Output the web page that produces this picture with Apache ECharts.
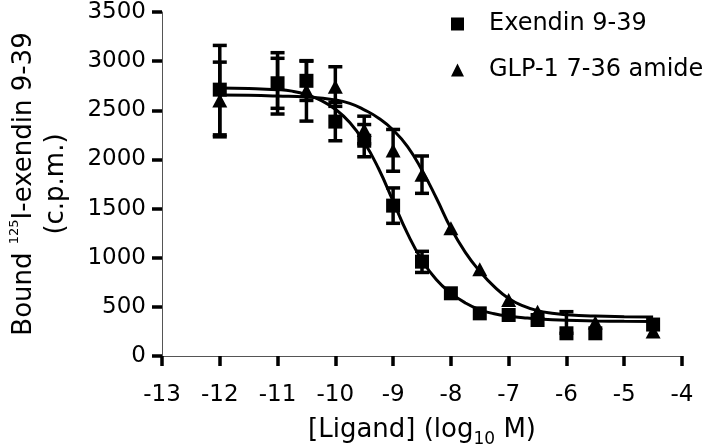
<!DOCTYPE html>
<html><head><meta charset="utf-8">
<script src="https://cdn.jsdelivr.net/npm/echarts@6/dist/echarts.min.js"></script>
<style>html,body{margin:0;padding:0;background:#fff}#c{width:720px;height:444px}</style>
</head><body><div id="c"></div>
<script>
// ---- data ----
const seriesNames = ['Exendin 9-39', 'GLP-1 7-36 amide'];
const xTickValues = [-13, -12, -11, -10, -9, -8, -7, -6, -5, -4];
const yTickValues = [0, 500, 1000, 1500, 2000, 2500, 3000, 3500];

// Exendin 9-39 (squares): mean and error-bar ends
const exLogConc = [-12, -11, -10.5, -10, -9.5, -9, -8.5, -8, -7.5, -7, -6.5, -6, -5.5, -4.5];
const exBound   = [2710, 2775, 2800, 2385, 2190, 1530, 960, 638, 434, 417, 366, 231, 231, 320];
const exErrLow  = [2250, 2462, 2600, 2190, 2027, 1350, 850, 638, 434, 417, 366, 231, 231, 320];
const exErrHigh = [3160, 3086, 3000, 2580, 2355, 1710, 1065, 638, 434, 417, 366, 451, 231, 320];

// GLP-1 7-36 amide (triangles)
const glpLogConc = [-12, -11, -10.5, -10, -9.5, -9, -8.5, -8, -7.5, -7, -6.5, -5.5, -4.5];
const glpBound   = [2600, 2775, 2700, 2740, 2300, 2090, 1845, 1299, 882, 570, 451, 340, 250];
const glpErrLow  = [2230, 2520, 2390, 2540, 2160, 1880, 1655, 1299, 882, 570, 451, 340, 250];
const glpErrHigh = [2990, 3029, 3005, 2943, 2440, 2305, 2035, 1299, 882, 570, 451, 340, 250];

// fitted curves
const exCurveX = [-12, -11.5, -11, -10.75, -10.5, -10.25, -10, -9.75, -9.5, -9.25, -9, -8.75, -8.5, -8.25, -8, -7.75, -7.5, -7.25, -7, -6.75, -6.5, -6, -5.5, -5, -4.5];
const exCurveY = [2727, 2722, 2710, 2695, 2660, 2600, 2510, 2375, 2175, 1905, 1575, 1245, 975, 775, 640, 540, 470, 430, 405, 390, 378, 364, 357, 353, 350];
const glpCurveX = [-12, -11.5, -11, -10.5, -10, -9.75, -9.5, -9.25, -9, -8.75, -8.5, -8.25, -8, -7.75, -7.5, -7.25, -7, -6.75, -6.5, -6.25, -6, -5.5, -5, -4.5];
const glpCurveY = [2655, 2652, 2645, 2635, 2605, 2570, 2505, 2420, 2300, 2130, 1890, 1605, 1300, 1055, 862, 705, 585, 510, 462, 435, 420, 406, 400, 397];

// ---- chart ----
const FONT = 'DejaVu Sans';
const zip = (a, b) => a.map((v, i) => [v, b[i]]);

function errSeries(xs, lo, hi) {
  const data = [];
  xs.forEach((x, i) => { if (hi[i] > lo[i]) data.push([x, lo[i], hi[i]]); });
  return {
    type: 'custom', silent: true, z: 3,
    data: data,
    encode: { x: 0, y: [1, 2] },
    renderItem: function (params, api) {
      const x = api.value(0);
      const a = api.coord([x, api.value(1)]);
      const b = api.coord([x, api.value(2)]);
      const hw = 7;
      const st = { stroke: '#000', lineWidth: 3.5, fill: null };
      return {
        type: 'group', children: [
          { type: 'line', shape: { x1: a[0], y1: a[1], x2: b[0], y2: b[1] }, style: st },
          { type: 'line', shape: { x1: a[0] - hw, y1: a[1], x2: a[0] + hw, y2: a[1] }, style: st },
          { type: 'line', shape: { x1: b[0] - hw, y1: b[1], x2: b[0] + hw, y2: b[1] }, style: st }
        ]
      };
    }
  };
}

const chart = echarts.init(document.getElementById('c'), null, { renderer: 'canvas' });
chart.setOption({
  animation: false,
  backgroundColor: '#fff',
  textStyle: { fontFamily: FONT, color: '#000' },
  grid: { left: 162, right: 38, top: 12, bottom: 88, containLabel: false, outerBoundsMode: 'none' },
  legend: {
    orient: 'vertical', left: 446, top: 7, itemWidth: 13, itemHeight: 13, itemGap: 22,
    selectedMode: false,
    data: [{ name: seriesNames[0], icon: 'rect' }, { name: seriesNames[1], icon: 'triangle' }],
    itemStyle: { color: '#000', opacity: 1 },
    textStyle: { fontFamily: FONT, fontSize: 24, color: '#000', padding: [0, 0, 0, 20] }
  },
  xAxis: {
    type: 'value',
    min: xTickValues[0], max: xTickValues[xTickValues.length - 1], interval: 1,
    axisLine: { onZero: false, lineStyle: { color: '#555', width: 1 } },
    axisTick: { length: 10, lineStyle: { color: '#000', width: 3.5 } },
    axisLabel: { fontFamily: FONT, fontSize: 23, color: '#000', margin: 28, formatter: v => String(v) },
    splitLine: { show: false },
    name: '[Ligand] (log{sub|10} M)',
    nameLocation: 'middle', nameGap: 51,
    nameTextStyle: {
      fontFamily: FONT, fontSize: 26, color: '#000', lineHeight: 36,
      rich: { sub: { fontFamily: FONT, fontSize: 17, verticalAlign: 'bottom', lineHeight: 17, color: '#000' } }
    }
  },
  yAxis: {
    type: 'value',
    min: yTickValues[0], max: yTickValues[yTickValues.length - 1], interval: 500,
    axisLine: { show: true, lineStyle: { color: '#555', width: 1 } },
    axisTick: { show: true, length: 10, lineStyle: { color: '#000', width: 3.5 } },
    axisLabel: { fontFamily: FONT, fontSize: 23, color: '#000', margin: 16, formatter: v => String(v) },
    splitLine: { show: false },
    name: 'Bound {sup|125}I-exendin 9-39\n(c.p.m.)',
    nameLocation: 'middle', nameGap: 90, nameRotate: 90,
    nameTextStyle: {
      fontFamily: FONT, fontSize: 26, color: '#000', lineHeight: 32, align: 'center',
      rich: { sup: { fontFamily: FONT, fontSize: 13, verticalAlign: 'top', lineHeight: 13, color: '#000' } }
    }
  },
  series: [
    { type: 'line', data: zip(exCurveX, exCurveY), showSymbol: false, symbol: 'none', smooth: 0.5,
      lineStyle: { color: '#000', width: 3 }, silent: true, z: 2 },
    { type: 'line', data: zip(glpCurveX, glpCurveY), showSymbol: false, symbol: 'none', smooth: 0.5,
      lineStyle: { color: '#000', width: 3 }, silent: true, z: 2 },
    errSeries(exLogConc, exErrLow, exErrHigh),
    errSeries(glpLogConc, glpErrLow, glpErrHigh),
    { name: seriesNames[1], type: 'scatter', data: zip(glpLogConc, glpBound), symbol: 'triangle', symbolSize: [15, 14],
      itemStyle: { color: '#000', opacity: 1 }, z: 4 },
    { name: seriesNames[0], type: 'scatter', data: zip(exLogConc, exBound), symbol: 'rect', symbolSize: 14,
      itemStyle: { color: '#000', opacity: 1 }, z: 5 }
  ]
});
</script>
</body></html>
